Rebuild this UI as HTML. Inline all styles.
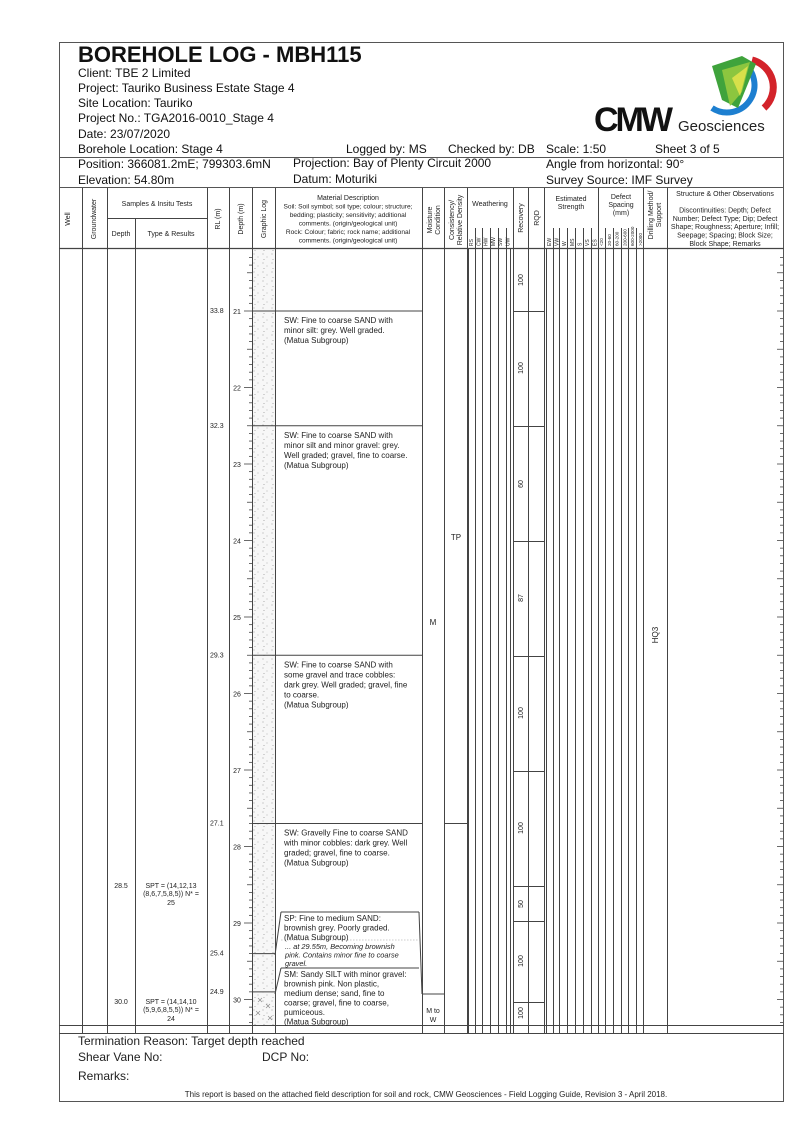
<!DOCTYPE html>
<html><head><meta charset="utf-8"><style>
html,body{margin:0;padding:0;background:#fff}
svg{display:block;font-family:"Liberation Sans",Arial,sans-serif}
</style></head><body>
<svg id="s" width="807" height="1140" viewBox="0 0 807 1140" xmlns="http://www.w3.org/2000/svg">
<defs>
<pattern id="dots" width="9" height="9" patternUnits="userSpaceOnUse">
<rect width="9" height="9" fill="#f7f7f7"/>
<circle cx="2" cy="2" r="0.5" fill="#888"/><circle cx="6" cy="5" r="0.45" fill="#999"/><circle cx="3" cy="7.5" r="0.45" fill="#888"/>
</pattern>
</defs>
<g stroke="#555" fill="none" stroke-width="1">
<rect x="59.5" y="42.5" width="724" height="1059"/>
<line x1="59" y1="157.5" x2="784" y2="157.5"/>
<line x1="59" y1="187.5" x2="784" y2="187.5"/>
</g>
<text x="78" y="62" font-size="22" font-weight="bold" fill="#111">BOREHOLE LOG - MBH115</text>
<g font-size="12" fill="#111">
<text x="78" y="77">Client: TBE 2 Limited</text>
<text x="78" y="92">Project: Tauriko Business Estate Stage 4</text>
<text x="78" y="107">Site Location: Tauriko</text>
<text x="78" y="122">Project No.: TGA2016-0010_Stage 4</text>
<text x="78" y="138">Date: 23/07/2020</text>
<text x="78" y="153">Borehole Location: Stage 4</text>
<text x="346" y="153">Logged by: MS</text>
<text x="448" y="153">Checked by: DB</text>
<text x="546" y="153">Scale:   1:50</text>
<text x="655" y="153">Sheet 3 of 5</text>
<text x="78" y="168">Position:  366081.2mE;  799303.6mN</text>
<text x="293" y="167">Projection:  Bay of Plenty Circuit 2000</text>
<text x="546" y="168">Angle from horizontal: 90°</text>
<text x="78" y="184">Elevation: 54.80m</text>
<text x="293" y="183">Datum:  Moturiki</text>
<text x="546" y="184">Survey Source:  IMF Survey</text>
</g>
<g>
<path d="M742 62 A27 27 0 1 1 712 108" fill="none" stroke="#1d7fd0" stroke-width="6"/>
<path d="M752 60 A28 28 0 0 1 764 108" fill="none" stroke="#d3232a" stroke-width="7"/>
<path d="M712 66 L742 56 L756 64 L738 108 L722 100 Z" fill="#3fa33c"/>
<path d="M722 70 L750 62 L742 92 L730 106 Z" fill="#8cc63f"/>
<path d="M732 78 L748 66 L740 96 Z" fill="#d8e04a"/>
<text x="594" y="131" font-size="34" font-weight="bold" fill="#111" letter-spacing="-3">CMW</text>
<text x="678" y="131" font-size="15" fill="#222">Geosciences</text>
</g>
<g id="grid" stroke="#444" stroke-width="1" fill="none"></g>
<g id="txt" fill="#222"></g>
</svg>
<script>
(function(){
const NS="http://www.w3.org/2000/svg";
const g=document.getElementById('grid'), t=document.getElementById('txt'), S=document.getElementById('s');
function L(x1,y1,x2,y2,w,c,p,da){const e=document.createElementNS(NS,'line');e.setAttribute('x1',x1);e.setAttribute('y1',y1);e.setAttribute('x2',x2);e.setAttribute('y2',y2);if(w)e.setAttribute('stroke-width',w);if(c)e.setAttribute('stroke',c);if(da)e.setAttribute('stroke-dasharray',da);(p||g).appendChild(e);}
function T(x,y,s,fs,o){o=o||{};const e=document.createElementNS(NS,'text');e.setAttribute('x',x);e.setAttribute('y',y);e.setAttribute('font-size',fs||8);if(o.a)e.setAttribute('text-anchor',o.a);if(o.r)e.setAttribute('transform','rotate(-90 '+x+' '+y+')');if(o.i)e.setAttribute('font-style','italic');e.textContent=s;t.appendChild(e);}
function R(x,y,w,h,f){const e=document.createElementNS(NS,'rect');e.setAttribute('x',x);e.setAttribute('y',y);e.setAttribute('width',w);e.setAttribute('height',h);e.setAttribute('fill',f);e.setAttribute('stroke','none');S.insertBefore(e,g);}
const Y=d=>311+(d-21)*76.5;
const ytop=249,ybot=1025,hdr=188;
R(252,ytop,23,ybot-ytop,'url(#dots)');
const V=[82,107,207,229,252,275,422,444,467,513,528,544,598,643,667];
V.forEach(x=>L(x+.5,hdr,x+.5,1033));
L(59,248.5,784,248.5,1.2);L(107,218.5,207,218.5);L(135.5,218,135.5,1033);
L(59,1025.5,784,1025.5);L(59,1033.5,784,1033.5);
[475,482,490,498,506].forEach(x=>L(x+.5,228,x+.5,1033));
[553,559,567,575,583,591].forEach(x=>L(x+.5,228,x+.5,1033));
[605,613,621,628,636].forEach(x=>L(x+.5,228,x+.5,1033));
L(468.5,248,468.5,1033);L(510.5,248,510.5,1033);L(546.5,248,546.5,1033);
T(70,219,'Well',7,{a:'middle',r:1});T(96,219,'Groundwater',7,{a:'middle',r:1});
T(157,206,'Samples & Insitu Tests',7,{a:'middle'});T(121,236,'Depth',7,{a:'middle'});T(171,236,'Type & Results',7,{a:'middle'});
T(220,219,'RL (m)',7,{a:'middle',r:1});T(243,219,'Depth (m)',7,{a:'middle',r:1});T(266,219,'Graphic Log',7,{a:'middle',r:1});
['Material Description','Soil: Soil symbol; soil type; colour; structure;','bedding; plasticity; sensitivity; additional','comments. (origin/geological unit)','Rock: Colour; fabric; rock name; additional','comments. (origin/geological unit)'].forEach((s,i)=>T(348,200+i*8.5,s,i?6.6:7,{a:'middle'}));
T(432,220,'Moisture',7,{a:'middle',r:1});T(440,220,'Condition',7,{a:'middle',r:1});
T(454,220,'Consistency/',7,{a:'middle',r:1});T(462,220,'Relative Density',7,{a:'middle',r:1});
T(490,206,'Weathering',7,{a:'middle'});
['RS','CW','HW','MW','SW','UW'].forEach((s,i)=>T(473+i*7.3,246,s,5,{r:1}));
T(523,218,'Recovery',7,{a:'middle',r:1});T(539,218,'RQD',7,{a:'middle',r:1});
T(571,201,'Estimated',7,{a:'middle'});T(571,209,'Strength',7,{a:'middle'});
['EW','VW','W','MS','S','VS','ES'].forEach((s,i)=>T(551+i*7.6,246,s,5,{r:1}));
T(621,199,'Defect',7,{a:'middle'});T(621,207,'Spacing',7,{a:'middle'});T(621,215,'(mm)',7,{a:'middle'});
['<20','20-60','60-200','200-600','600-2000','>2000'].forEach((s,i)=>T(603+i*7.8,246,s,4.6,{r:1}));
T(653,215,'Drilling Method/',7,{a:'middle',r:1});T(661,215,'Support',7,{a:'middle',r:1});
['Structure & Other Observations','','Discontinuities: Depth; Defect','Number; Defect Type; Dip; Defect','Shape; Roughness; Aperture; Infill;','Seepage; Spacing; Block Size;','Block Shape; Remarks'].forEach((s,i)=>{if(s)T(725,196+i*8.3,s,7,{a:'middle'})});
for(let k=0;k<=103;k++){const d=Math.round((20.2+k*0.1)*10)/10;const y=Y(d);if(y<ytop+1||y>ybot-1)continue;const m=Math.round(d*10)%10;
 const len=m==0?8:(m==5?5:3);L(252-len,y,252,y,0.8);
 L(783,y,783-(m==5||m==0?6:3),y,0.8);}
for(let d=21;d<=30;d++){T(237,Y(d)+3,String(d),7,{a:'middle'});}
[[21,'33.8'],[22.5,'32.3'],[25.5,'29.3'],[27.7,'27.1'],[29.4,'25.4'],[29.9,'24.9']].forEach(function(a){const d=a[0],rl=a[1];const y=Y(d);T(210,y+2,rl,7);L(252,y,275,y);if(d<29)L(275,y,422,y);});
// SP / SM slanted boxes
L(281,912,419,912);L(281,912,275,955);L(419,912,422,994);
L(281,968,419,968);L(281,968,275,994);
L(281,940,419,940,0.6,'#999',null,'1.5,1.5');
function D(y,lines,o,sp){lines.forEach((s,i)=>T(284,y+i*(sp||10),s,8,o));}
D(Y(21)+12,['SW: Fine to coarse SAND with','minor silt: grey. Well graded.','(Matua Subgroup)']);
D(Y(22.5)+12,['SW: Fine to coarse SAND with','minor silt and minor gravel: grey.','Well graded; gravel, fine to coarse.','(Matua Subgroup)']);
D(Y(25.5)+12,['SW: Fine to coarse SAND with','some gravel and trace cobbles:','dark grey. Well graded; gravel, fine','to coarse.','(Matua Subgroup)']);
D(Y(27.7)+12,['SW: Gravelly Fine to coarse SAND','with minor cobbles: dark grey. Well','graded; gravel, fine to coarse.','(Matua Subgroup)']);
D(921,['SP: Fine to medium SAND:','brownish grey. Poorly graded.','(Matua Subgroup)'],null,9.5);
T(285,949,'...  at 29.55m, Becoming brownish',7.4,{i:1});T(285,957.5,'pink. Contains minor fine to coarse',7.4,{i:1});T(285,966,'gravel.',7.4,{i:1});
D(977,['SM: Sandy SILT with minor gravel:','brownish pink. Non plastic,','medium dense; sand, fine to','coarse; gravel, fine to coarse,','pumiceous.','(Matua Subgroup)'],null,9.5);
T(433,625,'M',8,{a:'middle'});L(422,994,444,994);T(433,1013,'M to',7,{a:'middle'});T(433,1022,'W',7,{a:'middle'});
T(456,540,'TP',8,{a:'middle'});L(444,Y(27.7),467,Y(27.7));
[311,426,541,656,771,886,921,1002].forEach(y=>L(513,y+.5,544,y+.5));
[[280,'100'],[368,'100'],[484,'60'],[598,'87'],[713,'100'],[828,'100'],[904,'50'],[961,'100'],[1013,'100']].forEach(function(a){T(523,a[0],a[1],7,{a:'middle',r:1});});
T(658,635,'HQ3',8,{a:'middle',r:1});
T(121,888,'28.5',7,{a:'middle'});T(171,888,'SPT =  (14,12,13',7,{a:'middle'});T(171,896,'(8,6,7,5,8,5)) N* =',7,{a:'middle'});T(171,905,'25',7,{a:'middle'});
T(121,1004,'30.0',7,{a:'middle'});T(171,1004,'SPT =  (14,14,10',7,{a:'middle'});T(171,1012,'(5,9,6,8,5,5)) N* =',7,{a:'middle'});T(171,1021,'24',7,{a:'middle'});
[[260,1000],[268,1006],[258,1013],[270,1018]].forEach(function(p){const x=p[0],y=p[1];L(x-2,y-2,x+2,y+2,0.6,'#888');L(x-2,y+2,x+2,y-2,0.6,'#888');});
T(78,1045,'Termination Reason:  Target depth reached',12);
T(78,1061,'Shear Vane No:',12);T(262,1061,'DCP No:',12);
T(78,1080,'Remarks:',12);
T(426,1097,'This report is based on the attached field description for soil and rock, CMW Geosciences - Field Logging Guide, Revision 3 - April 2018.',8,{a:'middle'});
})();
</script>
</body></html>
